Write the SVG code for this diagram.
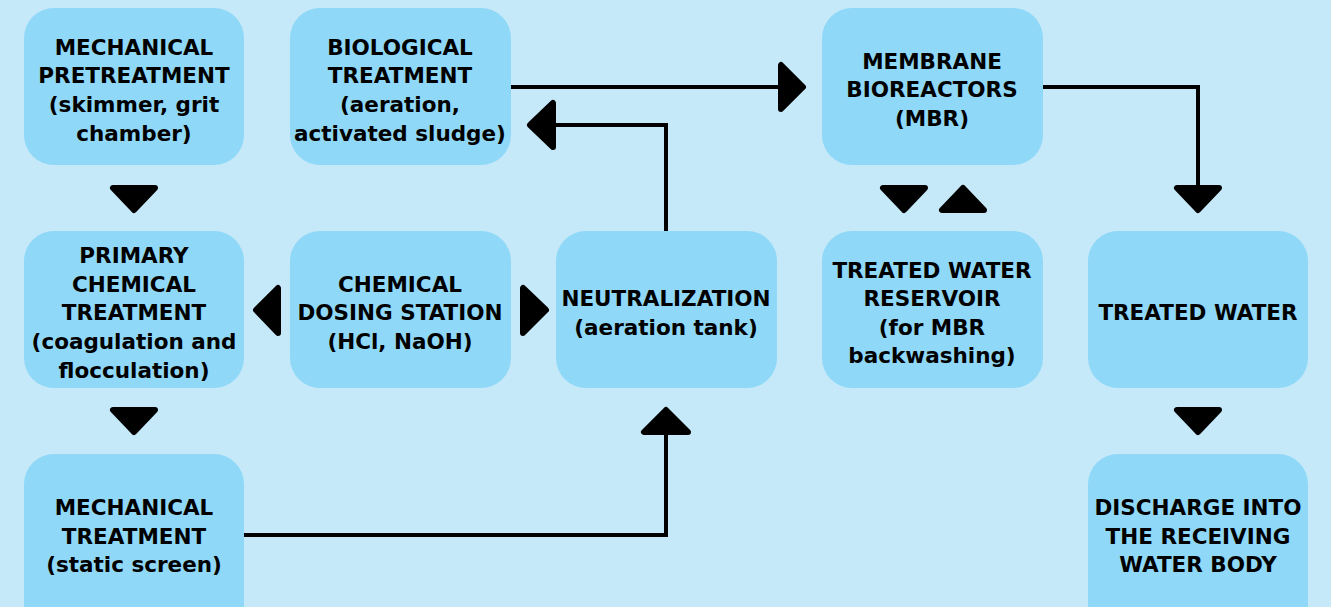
<svg xmlns="http://www.w3.org/2000/svg" width="1331" height="607" viewBox="0 0 1331 607">
<style>
.box{fill:#8fd8f7}
.t{font-family:"DejaVu Sans","Liberation Sans",sans-serif;font-weight:700;font-size:21.5px;fill:#000;text-anchor:middle}
.ln{fill:none;stroke:#000;stroke-width:4}
.ah{fill:#000;stroke:#000;stroke-width:6;stroke-linejoin:round}
</style>
<rect width="1331" height="607" fill="#c6e9f9"/>
<g id="n1"><rect class="box" x="24" y="8" width="220" height="157" rx="30"/>
<text class="t"><tspan x="134" y="55">MECHANICAL</tspan><tspan x="134" y="83">PRETREATMENT</tspan><tspan x="134" y="112">(skimmer, grit</tspan><tspan x="134" y="141">chamber)</tspan></text></g>
<g id="n2"><rect class="box" x="290" y="8" width="221" height="157" rx="30"/>
<text class="t"><tspan x="400" y="55">BIOLOGICAL</tspan><tspan x="400" y="83">TREATMENT</tspan><tspan x="400" y="112">(aeration,</tspan><tspan x="400" y="141">activated sludge)</tspan></text></g>
<g id="n3"><rect class="box" x="822" y="8" width="221" height="157" rx="30"/>
<text class="t"><tspan x="932" y="69">MEMBRANE</tspan><tspan x="932" y="97">BIOREACTORS</tspan><tspan x="932" y="126">(MBR)</tspan></text></g>
<g id="n4"><rect class="box" x="24" y="231" width="220" height="157" rx="30"/>
<text class="t"><tspan x="134" y="263">PRIMARY</tspan><tspan x="134" y="292">CHEMICAL</tspan><tspan x="134" y="320">TREATMENT</tspan><tspan x="134" y="349">(coagulation and</tspan><tspan x="134" y="378">flocculation)</tspan></text></g>
<g id="n5"><rect class="box" x="290" y="231" width="221" height="157" rx="30"/>
<text class="t"><tspan x="400" y="292">CHEMICAL</tspan><tspan x="400" y="320">DOSING STATION</tspan><tspan x="400" y="349">(HCl, NaOH)</tspan></text></g>
<g id="n6"><rect class="box" x="556" y="231" width="221" height="157" rx="30"/>
<text class="t"><tspan x="666" y="306">NEUTRALIZATION</tspan><tspan x="666" y="335">(aeration tank)</tspan></text></g>
<g id="n7"><rect class="box" x="822" y="231" width="221" height="157" rx="30"/>
<text class="t"><tspan x="932" y="278">TREATED WATER</tspan><tspan x="932" y="306">RESERVOIR</tspan><tspan x="932" y="335">(for MBR</tspan><tspan x="932" y="363">backwashing)</tspan></text></g>
<g id="n8"><rect class="box" x="1088" y="231" width="220" height="157" rx="30"/>
<text class="t"><tspan x="1198" y="320">TREATED WATER</tspan></text></g>
<g id="n9"><rect class="box" x="24" y="454" width="220" height="180" rx="30"/>
<text class="t"><tspan x="134" y="515">MECHANICAL</tspan><tspan x="134" y="544">TREATMENT</tspan><tspan x="134" y="572">(static screen)</tspan></text></g>
<g id="n10"><rect class="box" x="1088" y="454" width="220" height="180" rx="30"/>
<text class="t"><tspan x="1198" y="515">DISCHARGE INTO</tspan><tspan x="1198" y="544">THE RECEIVING</tspan><tspan x="1198" y="572">WATER BODY</tspan></text></g>
<g id="connectors">
<polyline class="ln" points="511,87 780,87"/>
<polyline class="ln" points="666,231 666,125 555,125"/>
<polyline class="ln" points="244,535 666,535 666,432"/>
<polyline class="ln" points="1043,87 1198,87 1198,187"/>
<polygon class="ah" points="113,188 155,188 134,210"/>
<polygon class="ah" points="113,410 155,410 134,432"/>
<polygon class="ah" points="278,288 278,333 256,310"/>
<polygon class="ah" points="523,288 523,333 546,310"/>
<polygon class="ah" points="781,65 781,109 803,87"/>
<polygon class="ah" points="553,103 553,147 530,125"/>
<polygon class="ah" points="644,432 688,432 666,410"/>
<polygon class="ah" points="1177,188 1219,188 1198,210"/>
<polygon class="ah" points="883,188 925,188 904,210"/>
<polygon class="ah" points="942,210 984,210 963,188"/>
<polygon class="ah" points="1177,410 1219,410 1198,432"/>
</g>
</svg>
